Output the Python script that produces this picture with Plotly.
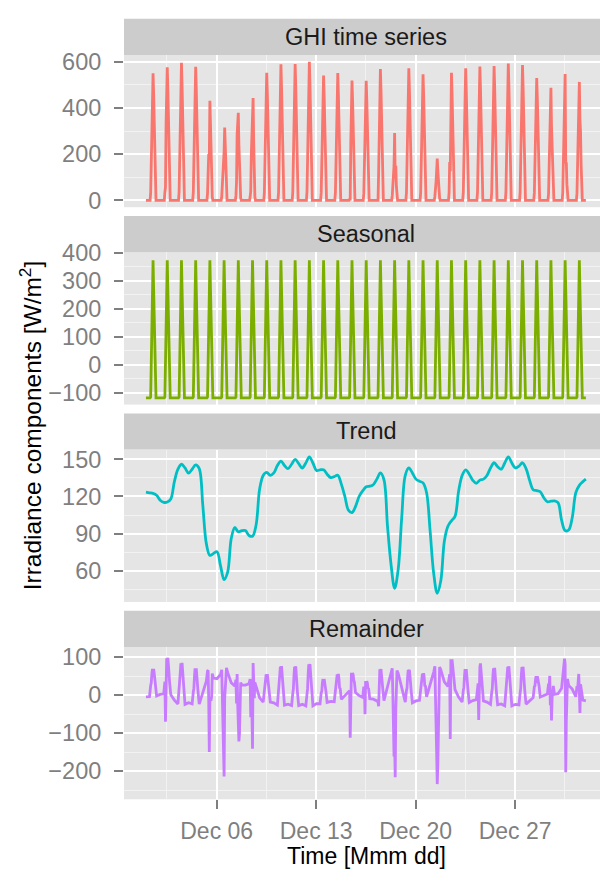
import pandas as pd
import plotly.graph_objects as go

# ---------------- data ----------------
YEAR = 2013
N_DAYS = 31                                  # Dec 01 .. Dec 31, hourly
daylight_hours = [8, 9, 10, 11, 12, 13, 14, 15, 16]

# GHI [W/m2] for daylight hours 08..16 of each day (night hours are 0)
ghi_daylight = [
    [33, 165, 319, 457, 550, 462, 319, 165, 33],   # Dec 01
    [35, 56, 334, 478, 576, 484, 334, 173, 35],    # Dec 02
    [36, 179, 346, 495, 596, 501, 346, 179, 36],   # Dec 03
    [35, 174, 336, 481, 579, 486, 336, 174, 35],   # Dec 04
    [30, 148, 200, 188, 431, 330, 200, 80, 15],    # Dec 05
    [15, 60, 120, 160, 212, 315, 230, 90, 15],     # Dec 06
    [20, 80, 287, 330, 379, 240, 130, 50, 10],     # Dec 07
    [15, 40, 200, 300, 320, 443, 250, 90, 15],     # Dec 08
    [33, 166, 321, 459, 553, 465, 321, 166, 33],   # Dec 09
    [35, 177, 342, 489, 589, 495, 342, 177, 35],   # Dec 10
    [35, 177, 342, 490, 590, 496, 342, 177, 35],   # Dec 11
    [36, 180, 348, 498, 600, 504, 348, 180, 36],   # Dec 12
    [32, 162, 314, 449, 541, 454, 314, 162, 32],   # Dec 13
    [33, 165, 320, 457, 551, 463, 320, 165, 33],   # Dec 14
    [5, 5, 250, 431, 519, 436, 301, 156, 31],      # Dec 15
    [31, 155, 218, 430, 518, 435, 300, 155, 31],   # Dec 16
    [0, 120, 330, 472, 569, 478, 330, 171, 34],    # Dec 17
    [20, 60, 100, 150, 291, 100, 150, 60, 10],     # Dec 18
    [34, 172, 332, 475, 572, 480, 332, 172, 34],   # Dec 19
    [33, 164, 317, 453, 546, 459, 317, 164, 33],   # Dec 20
    [18, 40, 80, 129, 181, 129, 80, 40, 10],       # Dec 21
    [33, 166, 125, 460, 553, 465, 321, 166, 33],   # Dec 22
    [34, 172, 332, 475, 572, 480, 332, 172, 34],   # Dec 23
    [35, 174, 208, 452, 580, 487, 336, 174, 35],   # Dec 24
    [35, 175, 338, 483, 582, 489, 338, 175, 35],   # Dec 25
    [36, 178, 344, 492, 593, 498, 344, 178, 36],   # Dec 26
    [35, 176, 340, 486, 586, 492, 340, 176, 35],   # Dec 27
    [32, 159, 307, 440, 530, 445, 307, 159, 32],   # Dec 28
    [30, 150, 307, 355, 488, 320, 250, 130, 25],   # Dec 29
    [33, 164, 317, 454, 547, 160, 165, 70, 20],    # Dec 30
    [31, 154, 298, 450, 513, 352, 298, 154, 31],   # Dec 31
]

# Seasonal component: one daily cycle, hours 00..23
seasonal_profile = [-119, -119, -119, -119, -119, -119, -119, -119,
                    -116, 10, 140, 265, 373, 270, 140, 10, -116,
                    -119, -119, -119, -119, -119, -119, -119]

# Trend component sampled at 00, 06, 12, 18 h of each day
trend_hours = [0, 6, 12, 18]
trend_samples = [
    [123.5, 123, 122.5, 121], [117, 115.3, 115.5, 118], [132, 142, 146, 143],
    [138.8, 142, 145.5, 142.5], [113, 82, 72.5, 74], [75.5, 64, 53, 59],
    [86, 95, 91.5, 92.5], [92.5, 88.6, 88, 97], [126, 137, 139.5, 137],
    [139, 145, 148.5, 145], [142.5, 146, 150, 146.5], [143, 147, 152, 147],
    [141, 141.5, 141.5, 138], [135.3, 136, 137.2, 130], [120, 109, 107, 112],
    [120, 124.5, 127.8, 128.3], [129.5, 134, 139, 133.5], [96, 65, 46, 61],
    [103, 137, 143, 139], [134, 132.3, 131, 123], [92, 58, 42, 52],
    [84, 96, 100.4, 104], [124, 137, 141.5, 138], [133, 130.6, 133.2, 134],
    [137, 143, 147.2, 144], [142, 147, 152, 147], [143, 144.5, 147.2, 142.5],
    [133, 125.5, 124.8, 123.8], [119, 115.8, 116.2, 116.5], [115, 101, 92.5, 93],
    [103, 123, 129, 132],
]
trend_final = 134          # Dec 31, 23 h

panel_names = ["GHI time series", "Seasonal", "Trend", "Remainder"]
line_colors = ["#F8766D", "#7CAE00", "#00BFC4", "#C77CFF"]
x_tick_dates = ["2013-12-06", "2013-12-13", "2013-12-20", "2013-12-27"]
x_tick_labels = ["Dec 06", "Dec 13", "Dec 20", "Dec 27"]
x_minor_dates = ["2013-12-02 12:00", "2013-12-09 12:00", "2013-12-16 12:00",
                 "2013-12-23 12:00", "2013-12-30 12:00"]
y_ranges = [[-30, 630], [-143, 402], [35, 157.8], [-274, 127]]
y_dticks = [200, 100, 30, 100]
y_minor_dticks = [100, 50, 15, 50]

# ---------------- build series ----------------
def stamp(d, h):
    return pd.Timestamp(YEAR, 12, d + 1, h, 30)

def ghi_at(d, h):
    return ghi_daylight[d][daylight_hours.index(h)] if h in daylight_hours else 0

t_hourly, ghi_v, seas_v = [], [], []
for d in range(N_DAYS):
    for h in range(24):
        t_hourly.append(stamp(d, h))
        ghi_v.append(ghi_at(d, h))
        seas_v.append(seasonal_profile[h])

trend_t = [stamp(d, h) for d in range(N_DAYS) for h in trend_hours] + [stamp(N_DAYS - 1, 23)]
trend_v = [v for row in trend_samples for v in row] + [trend_final]

def trend_near(d, h):
    k = min(range(4), key=lambda i: (abs(trend_hours[i] - h), abs(trend_hours[i] - 12)))
    return trend_samples[d][k]

# Remainder = GHI - seasonal - trend (STL identity)
rem_hours = [0, 6] + daylight_hours + [18]
rem_t, rem_v = [], []
for d in range(N_DAYS):
    for h in rem_hours:
        rem_t.append(stamp(d, h))
        rem_v.append(ghi_at(d, h) - seasonal_profile[h] - trend_near(d, h))
rem_t.append(stamp(N_DAYS - 1, 23))
rem_v.append(0 - seasonal_profile[23] - trend_final)

series = [(t_hourly, ghi_v), (t_hourly, seas_v), (trend_t, trend_v), (rem_t, rem_v)]

# ---------------- figure ----------------
W, H = 600, 876
PANEL_L = 124
panel_tops = [43.8, 245.3, 446.8, 648.3]
PANEL_H = 155.5
STRIP_H = 37.0
TXT_X = 366
FONT = "Liberation Sans, Arial, Helvetica, sans-serif"
GREY = "#7F7F7F"
x_range = [pd.Timestamp("2013-11-29 11:26"), pd.Timestamp("2014-01-01 23:23")]

fig = go.Figure()
layout = dict(
    width=W, height=H, margin=dict(l=0, r=0, t=0, b=0),
    paper_bgcolor="white", plot_bgcolor="#E5E5E5", showlegend=False,
    font=dict(family=FONT, size=23, color=GREY),
)
shapes, annots = [], []
for i in range(4):
    n = "" if i == 0 else str(i + 1)
    (tx, vy) = series[i]
    fig.add_trace(go.Scatter(
        x=tx, y=vy, mode="lines", xaxis="x" + n, yaxis="y" + n,
        line=dict(color=line_colors[i], width=2.8,
                  shape="spline" if i == 2 else "linear"),
        hoverinfo="skip"))
    top = panel_tops[i]
    bot = top + PANEL_H
    dom_y = [1 - bot / H, 1 - top / H]
    is_bottom = (i == 3)
    layout["xaxis" + n] = dict(
        domain=[PANEL_L / W, 1], range=x_range, type="date", anchor="y" + n,
        tickmode="array", tickvals=x_tick_dates, ticktext=x_tick_labels,
        showticklabels=is_bottom, ticks="outside" if is_bottom else "",
        ticklen=9, tickwidth=2, tickcolor=GREY, ticklabelstandoff=2,
        tickfont=dict(size=23, color=GREY, family=FONT),
        showgrid=True, gridcolor="white", gridwidth=2, zeroline=False,
        showline=False,
        minor=dict(tickmode="array", tickvals=x_minor_dates, showgrid=True,
                   gridcolor="#F2F2F2", gridwidth=1, ticks=""),
    )
    layout["yaxis" + n] = dict(
        domain=dom_y, range=y_ranges[i], anchor="x" + n,
        tickmode="linear", tick0=0, dtick=y_dticks[i],
        ticks="outside", ticklen=9, tickwidth=2, tickcolor=GREY,
        tickfont=dict(size=23.5, color=GREY, family=FONT),
        showgrid=True, gridcolor="white", gridwidth=2, zeroline=False,
        showline=False, ticklabelstandoff=8,
        minor=dict(tick0=0, dtick=y_minor_dticks[i], showgrid=True,
                   gridcolor="#F2F2F2", gridwidth=1, ticks=""),
    )
    # facet strip
    s_top = top - STRIP_H
    shapes.append(dict(type="rect", xref="paper", yref="paper",
                       x0=PANEL_L / W, x1=1, y0=1 - top / H, y1=1 - s_top / H,
                       fillcolor="#CCCCCC", line=dict(width=0), layer="below"))
    annots.append(dict(text=panel_names[i], xref="paper", yref="paper",
                       x=TXT_X / W, y=1 - (s_top + STRIP_H / 2) / H,
                       xanchor="center", yanchor="middle", showarrow=False,
                       font=dict(size=23.5, color="#1A1A1A", family=FONT)))

annots.append(dict(text="Time [Mmm dd]", xref="paper", yref="paper",
                   x=TXT_X / W, y=0, xanchor="center", yanchor="bottom",
                   borderpad=0, showarrow=False,
                   font=dict(size=23, color="black", family=FONT)))
annots.append(dict(text="Irradiance components [W/m<sup>2</sup>]", xref="paper",
                   yref="paper", x=30 / W, y=1 - 422 / H, xanchor="center",
                   yanchor="middle", textangle=-90, showarrow=False,
                   font=dict(size=24.5, color="black", family=FONT)))
layout["shapes"] = shapes
layout["annotations"] = annots
fig.update_layout(**layout)
fig.write_html("out.html", config={"displayModeBar": False})
